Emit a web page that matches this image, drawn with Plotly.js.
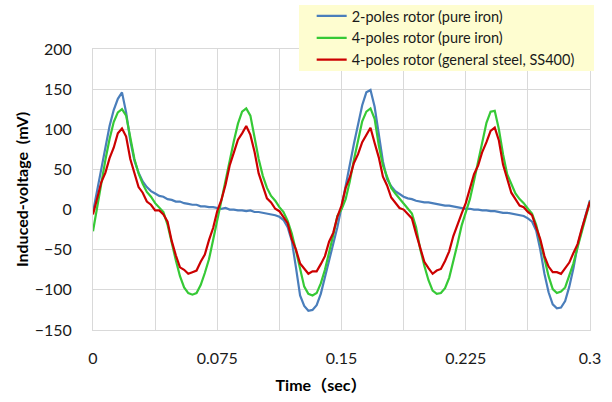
<!DOCTYPE html>
<html>
<head>
<meta charset="utf-8">
<script src="https://cdn.plot.ly/plotly-3.0.1.min.js"></script>
<style>html,body{margin:0;padding:0;background:#fff;}#chart{width:612px;height:402px;}</style>
</head>
<body>
<div id="chart"></div>
<script>
// Time (sec)
var time = [
0,0.0025,0.005,0.0075,0.01,0.0125,0.015,0.0175,0.02,0.0225,
0.025,0.0275,0.03,0.0325,0.035,0.0375,0.04,0.0425,0.045,0.0475,
0.05,0.0525,0.055,0.0575,0.06,0.0625,0.065,0.0675,0.07,0.0725,
0.075,0.0775,0.08,0.0825,0.085,0.0875,0.09,0.0925,0.095,0.0975,
0.1,0.1025,0.105,0.1075,0.11,0.1125,0.115,0.1175,0.12,0.1225,
0.125,0.1275,0.13,0.1325,0.135,0.1375,0.14,0.1425,0.145,0.1475,
0.15,0.1525,0.155,0.1575,0.16,0.1625,0.165,0.1675,0.17,0.1725,
0.175,0.1775,0.18,0.1825,0.185,0.1875,0.19,0.1925,0.195,0.1975,
0.2,0.2025,0.205,0.2075,0.21,0.2125,0.215,0.2175,0.22,0.2225,
0.225,0.2275,0.23,0.2325,0.235,0.2375,0.24,0.2425,0.245,0.2475,
0.25,0.2525,0.255,0.2575,0.26,0.2625,0.265,0.2675,0.27,0.2725,
0.275,0.2775,0.28,0.2825,0.285,0.2875,0.29,0.2925,0.295,0.2975,
0.3];

// Induced voltage (mV): 2-poles rotor (pure iron)
var twoPoleIron = [
-3,24,53,79,104,124,138,146,121,86,
61,46,35,28,23,20,17,16,13,12,
10,10,8,7,6,6,4,4,3,3,
2,1,2,0,0,-1,-1,-2,-1,-3,
-3,-4,-5,-6,-7,-9,-13,-22,-39,-72,
-107,-120,-126,-125,-119,-105,-84,-63,-42,-22,
3,30,57,82,106,130,146,149,128,92,
60,38,29,23,19,16,14,13,11,10,
9,9,8,7,6,5,5,4,3,2,
1,1,0,0,-1,-1,-2,-2,-3,-4,
-4,-5,-6,-7,-8,-11,-15,-26,-50,-80,
-103,-118,-123,-122,-114,-96,-73,-45,-24,-6,
12];

// 4-poles rotor (pure iron)
var fourPoleIron = [
-27,3,34,62,88,109,121,125,117,88,
63,45,32,22,16,8,3,-3,-19,-43,
-63,-83,-97,-104,-106,-104,-94,-79,-62,-38,
-13,13,38,61,85,107,122,126,117,90,
63,42,27,17,11,3,-3,-14,-30,-51,
-75,-96,-105,-107,-104,-92,-75,-55,-32,-8,
0,13,35,62,85,110,122,126,113,80,
55,40,27,20,14,8,2,-5,-22,-49,
-70,-88,-101,-105,-104,-98,-85,-65,-43,-20,
-2,13,36,61,87,108,122,123,100,69,
44,31,20,13,8,1,-5,-19,-39,-61,
-83,-99,-104,-102,-97,-83,-67,-47,-28,-6,
10];

// 4-poles rotor (general steel, SS400)
var fourPoleSteel = [
-6,15,34,46,64,77,95,101,91,63,
46,28,21,10,6,-1,-1,-6,-15,-39,
-57,-72,-75,-80,-78,-76,-65,-56,-38,-23,
-2,12,31,55,71,87,95,104,93,72,
45,30,14,9,1,-2,-9,-17,-37,-50,
-67,-74,-80,-77,-77,-68,-58,-40,-29,-9,
5,27,40,58,69,84,93,102,83,65,
41,30,15,9,2,0,-6,-11,-30,-49,
-65,-73,-80,-76,-74,-64,-52,-33,-18,-5,
8,27,44,55,72,84,98,102,86,56,
38,21,13,5,3,-3,-7,-21,-37,-58,
-71,-78,-78,-80,-73,-66,-54,-43,-24,-8,
10];

var seriesNames = ['2-poles rotor (pure iron)', '4-poles rotor (pure iron)', '4-poles rotor (general steel, SS400)'];
var seriesColors = ['#4a7ebb', '#36c936', '#cc0000'];
var xTickVals = [0,0.0375,0.075,0.1125,0.15,0.1875,0.225,0.2625,0.3];
var xTickText = ['0','','0.075','','0.15','','0.225','','0.3'];

var seriesData = [twoPoleIron, fourPoleIron, fourPoleSteel];
var traces = seriesData.map(function(v, i){
  return {x: time, y: v, type: 'scatter', mode: 'lines', name: seriesNames[i],
          line: {color: seriesColors[i], width: 2.2}};
});

var grid = '#d9d9d9';
var FONT = 'Lato, "Noto Sans CJK JP", sans-serif';
var layout = {
  width: 612, height: 402,
  margin: {l: 93, r: 22, t: 0, b: 72, pad: 0},
  paper_bgcolor: '#ffffff', plot_bgcolor: '#ffffff',
  font: {family: FONT, color: '#1a1a1a'},
  showlegend: true,
  legend: {x: 0.44, xanchor: 'left', y: 1.0, yanchor: 'top',
           bgcolor: 'rgba(0,0,0,0)', font: {family: FONT, size: 14.5, color: '#1a1a1a'}, borderwidth: 0},
  shapes: [{type: 'rect', xref: 'paper', yref: 'paper', x0: 0.4145, x1: 1.008, y0: 0.7848, y1: 0.9848,
            fillcolor: '#fefdd0', line: {width: 0}, layer: 'above'}],
  xaxis: {range: [0, 0.3], tickvals: xTickVals, ticktext: xTickText, showgrid: true, gridcolor: grid,
          gridwidth: 1, zeroline: false, showline: true, mirror: true, linecolor: grid, linewidth: 1,
          ticks: '', tickfont: {family: FONT, size: 16, color: '#1a1a1a'}, ticklabelstandoff: 14,
          title: {text: '<b>Time（sec）</b>&nbsp;&nbsp;&nbsp;&nbsp;&nbsp;&nbsp;&nbsp;&nbsp;&nbsp;&nbsp;', font: {family: FONT, size: 16, color: '#000'}, standoff: 13}},
  yaxis: {domain: [0, 0.8515], range: [-150, 200], dtick: 50, tick0: 0, showgrid: true, gridcolor: grid, gridwidth: 1,
          zeroline: false, showline: true, mirror: true, linecolor: grid, linewidth: 1,
          ticks: '', tickfont: {family: FONT, size: 16, color: '#1a1a1a'}, ticklabelstandoff: 17,
          title: {text: '<b>Induced-voltage  (mV)</b>', font: {family: FONT, size: 16, color: '#000'}, standoff: 2}}
};
Plotly.newPlot('chart', traces, layout, {displayModeBar: false, staticPlot: true});
</script>
</body>
</html>
